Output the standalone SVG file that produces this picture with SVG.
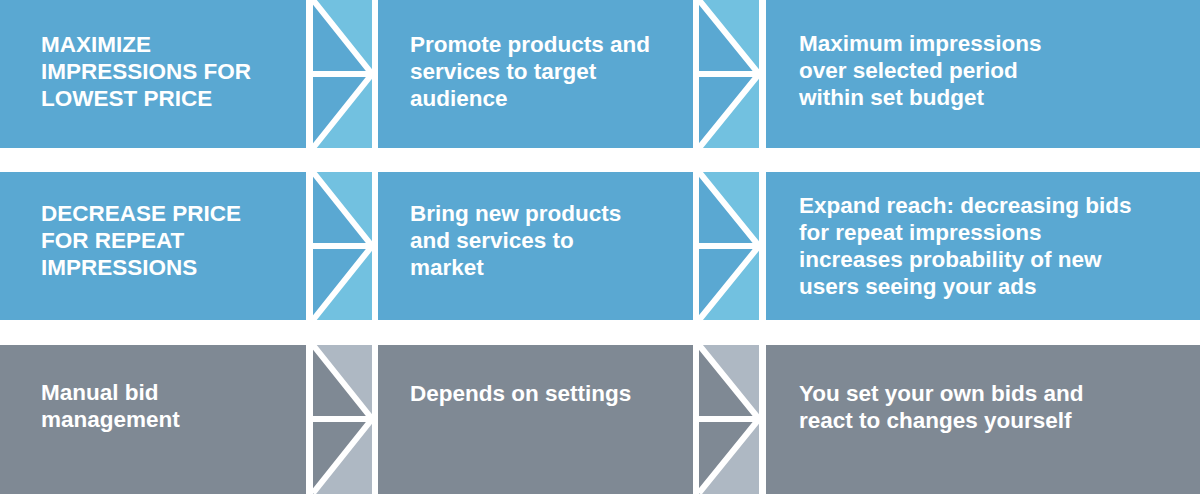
<svg xmlns="http://www.w3.org/2000/svg" width="1200" height="494" viewBox="0 0 1200 494">
<style>
.b{fill:#5AA8D2}
.bl{fill:#72C1E0}
.g{fill:#7F8994}
.gl{fill:#AEB8C3}
.w{stroke:#fff;stroke-width:6;fill:none;stroke-linejoin:miter}
text{font-family:"Liberation Sans",Arial,sans-serif;font-weight:bold;font-size:22.5px;fill:#fff}
</style>
<rect width="1200" height="494" fill="#fff"/>
<g id="row1-goal"><rect class="b" x="0" y="0" width="306" height="148"/><text x="41" y="52">MAXIMIZE</text><text x="41" y="79">IMPRESSIONS FOR</text><text x="41" y="106">LOWEST PRICE</text></g>
<g id="row1-use"><rect class="b" x="378" y="0" width="315" height="148"/><text x="410" y="52">Promote products and</text><text x="410" y="79">services to target</text><text x="410" y="106">audience</text></g>
<g id="row1-result"><rect class="b" x="766" y="0" width="434" height="148"/><text x="799" y="51">Maximum impressions</text><text x="799" y="78">over selected period</text><text x="799" y="105">within set budget</text></g>
<g id="row2-goal"><rect class="b" x="0" y="172" width="306" height="148"/><text x="41" y="221">DECREASE PRICE</text><text x="41" y="248">FOR REPEAT</text><text x="41" y="275">IMPRESSIONS</text></g>
<g id="row2-use"><rect class="b" x="378" y="172" width="315" height="148"/><text x="410" y="221">Bring new products</text><text x="410" y="248">and services to</text><text x="410" y="275">market</text></g>
<g id="row2-result"><rect class="b" x="766" y="172" width="434" height="148"/><text x="799" y="213">Expand reach: decreasing bids</text><text x="799" y="240">for repeat impressions</text><text x="799" y="267">increases probability of new</text><text x="799" y="294">users seeing your ads</text></g>
<g id="row3-goal"><rect class="g" x="0" y="345" width="306" height="149"/><text x="41" y="400">Manual bid</text><text x="41" y="427">management</text></g>
<g id="row3-use"><rect class="g" x="378" y="345" width="315" height="149"/><text x="410" y="401">Depends on settings</text></g>
<g id="row3-result"><rect class="g" x="766" y="345" width="434" height="149"/><text x="799" y="401">You set your own bids and</text><text x="799" y="428">react to changes yourself</text></g>
<g id="connectors">
<g id="c1a"><rect class="bl" x="313" y="0" width="59" height="148"/><polygon class="b" points="313,0 372,74 313,148"/><path class="w" d="M313,0 L372,74 L313,148 M313,74 H372"/></g>
<g id="c2a"><rect class="bl" x="699" y="0" width="60" height="148"/><polygon class="b" points="699,0 759,74 699,148"/><path class="w" d="M699,0 L759,74 L699,148 M699,74 H759"/></g>
<g id="c1b"><rect class="bl" x="313" y="172" width="59" height="148"/><polygon class="b" points="313,172 372,246 313,320"/><path class="w" d="M313,172 L372,246 L313,320 M313,246 H372"/></g>
<g id="c2b"><rect class="bl" x="699" y="172" width="60" height="148"/><polygon class="b" points="699,172 759,246 699,320"/><path class="w" d="M699,172 L759,246 L699,320 M699,246 H759"/></g>
<g id="c1c"><rect class="gl" x="313" y="345" width="59" height="149"/><polygon class="g" points="313,345 372,419 313,493"/><path class="w" d="M313,345 L372,419 L313,493 M313,419 H372"/></g>
<g id="c2c"><rect class="gl" x="699" y="345" width="60" height="149"/><polygon class="g" points="699,345 759,419 699,493"/><path class="w" d="M699,345 L759,419 L699,493 M699,419 H759"/></g>
</g>
</svg>
